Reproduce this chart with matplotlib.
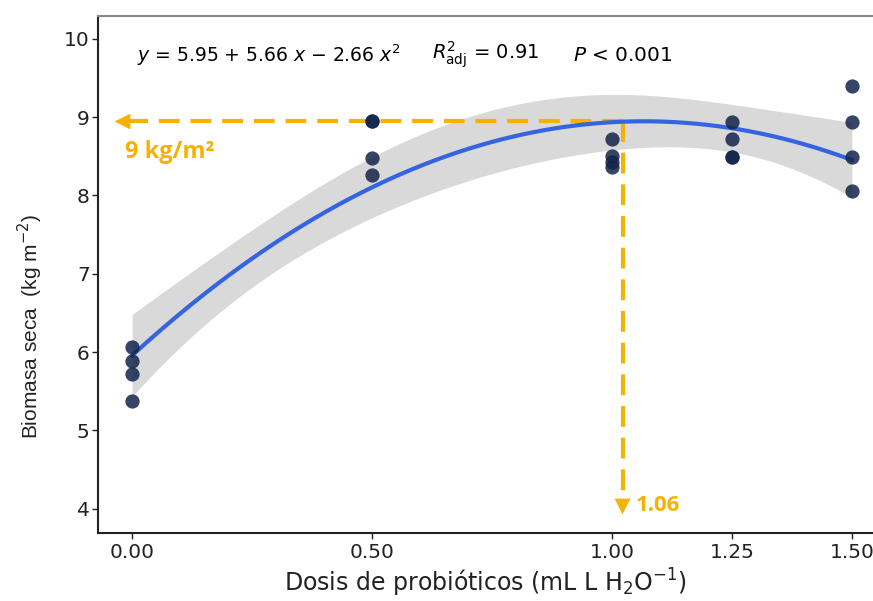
import numpy as np
import matplotlib.pyplot as plt

plt.rcParams["font.family"] = ["DejaVu Sans"]
plt.rcParams["mathtext.fontset"] = "dejavusans"

dose = [0.0, 0.0, 0.0, 0.0,
        0.5, 0.5, 0.5, 0.5,
        1.0, 1.0, 1.0, 1.0,
        1.25, 1.25, 1.25, 1.25,
        1.5, 1.5, 1.5, 1.5]
biomass = [6.06, 5.89, 5.72, 5.38,
           8.95, 8.95, 8.48, 8.26,
           8.72, 8.50, 8.42, 8.36,
           8.94, 8.72, 8.49, 8.49,
           9.40, 8.94, 8.49, 8.05]

xticks = [0.0, 0.5, 1.0, 1.25, 1.5]
xticklabels = ["0.00", "0.50", "1.00", "1.25", "1.50"]
yticks = [4, 5, 6, 7, 8, 9, 10]

opt_dose = 1.06
opt_biomass = 8.95

orange = "#f5b301"

x = np.asarray(dose)
y = np.asarray(biomass)

# quadratic least squares fit with 95% confidence band (as geom_smooth)
X = np.column_stack([np.ones_like(x), x, x**2])
beta, *_ = np.linalg.lstsq(X, y, rcond=None)
resid = y - X @ beta
dof = len(y) - 3
s2 = resid @ resid / dof
cov = s2 * np.linalg.inv(X.T @ X)
xs = np.linspace(0, 1.5, 200)
Xs = np.column_stack([np.ones_like(xs), xs, xs**2])
fit = Xs @ beta
se = np.sqrt(np.einsum("ij,jk,ik->i", Xs, cov, Xs))
tq = 2.110  # t(0.975, 17)

fig = plt.figure(figsize=(8.73, 6.01), dpi=100)
ax = fig.add_axes([0.1123, 0.1131, 0.8877, 0.8603])

ax.fill_between(xs, fit - tq * se, fit + tq * se, color="#d9d9d9", lw=0, zorder=1)
ax.plot(xs, fit, color="#3464e0", lw=3, zorder=3)
ax.scatter(x, y, s=105, color="#13244a", alpha=0.85, lw=0, zorder=4)

# optimum guide lines
ax.plot([1.023, -0.005], [opt_biomass, opt_biomass], color=orange, lw=3,
        dashes=(5, 2.6), zorder=2)
ax.plot([1.023, 1.023], [opt_biomass, 4.08], color=orange, lw=3,
        dashes=(5, 2.6), zorder=2)
ax.scatter([-0.022], [opt_biomass], marker="<", s=130, color=orange, lw=0, zorder=2)
ax.scatter([1.02], [4.04], marker="v", s=130, color=orange, lw=0, zorder=2)
ax.text(-0.015, 8.56, "9 kg/m²", color=orange, fontsize=17, fontweight="bold",
        family=["Open Sans", "DejaVu Sans"], va="center")
ax.text(1.05, 4.04, "1.06", color=orange, fontsize=16, fontweight="bold",
        family=["Open Sans", "DejaVu Sans"], va="center")

ax.text(0.01, 9.79, r"$y$ = 5.95 + 5.66 $x$ $-$ 2.66 $x^2$", fontsize=13.5, va="center")
ax.text(0.625, 9.79, r"$R^2_{\mathrm{adj}}$ = 0.91", fontsize=14, va="center")
ax.text(0.919, 9.79, r"$P$ < 0.001", fontsize=14.5, va="center")

ax.set_xlim(-0.071, 1.544)
ax.set_ylim(3.69, 10.29)
ax.set_xticks(xticks)
ax.set_xticklabels(xticklabels)
ax.set_yticks(yticks)
ax.tick_params(labelsize=14.5, length=4, width=1, colors="#222222")
ax.tick_params(axis="y", pad=2)
for side in ["left", "bottom"]:
    ax.spines[side].set_linewidth(1.5)
    ax.spines[side].set_color("#222222")
ax.spines["right"].set_visible(False)
ax.spines["top"].set_color("#888888")
ax.spines["top"].set_linewidth(1.5)

ax.set_xlabel(r"Dosis de probióticos (mL L H$_2$O$^{-1}$)", fontsize=17, labelpad=3,
              color="#222222")
ax.set_ylabel(r"Biomasa seca  (kg m$^{-2}$)", fontsize=15, color="#222222",
              family=["Liberation Sans", "DejaVu Sans"])
ax.yaxis.set_label_coords(-0.068, 0.40)

fig.savefig("out.png", dpi=100)
